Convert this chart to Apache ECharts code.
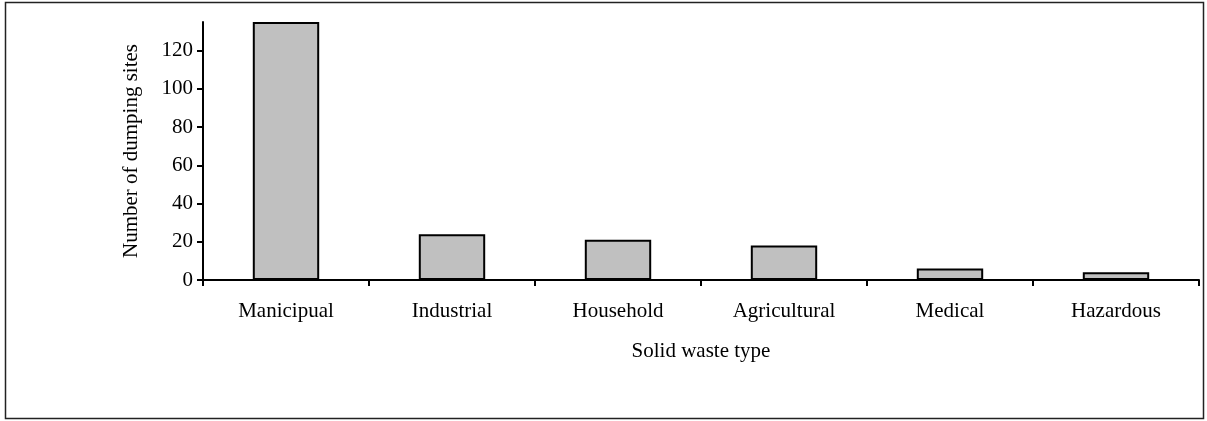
<!DOCTYPE html>
<html>
<head>
<meta charset="utf-8">
<script src="https://cdn.jsdelivr.net/npm/echarts@6/dist/echarts.min.js"></script>
<style>
  html, body { margin: 0; padding: 0; background: #fff; }
  #chart { width: 1207px; height: 421px; }
</style>
</head>
<body>
<div id="chart"></div>
<script>
// categories and values
const categories = ['Manicipual', 'Industrial', 'Household', 'Agricultural', 'Medical', 'Hazardous']
const sites = [135, 24, 21, 18, 6, 4]
const yTicks = [0, 20, 40, 60, 80, 100, 120]

const font = 'Liberation Serif, Times New Roman, serif'
const chart = echarts.init(document.getElementById('chart'))
chart.setOption({
  animation: false,
  graphic: [{
    type: 'rect',
    shape: { x: 5.5, y: 2.5, width: 1198, height: 416 },
    style: { fill: 'none', stroke: '#222', lineWidth: 1.5 },
    silent: true
  }],
  grid: { left: 203, right: 8, top: 22, bottom: 141 },
  xAxis: {
    type: 'category',
    data: categories,
    name: 'Solid waste type',
    nameLocation: 'middle',
    nameGap: 61,
    nameTextStyle: { fontFamily: font, fontSize: 21, color: '#000' },
    axisLine: { lineStyle: { color: '#000', width: 2 } },
    axisTick: { show: true, length: 6, lineStyle: { color: '#000', width: 2 } },
    axisLabel: { fontFamily: font, fontSize: 21, color: '#000', margin: 21 }
  },
  yAxis: {
    type: 'value',
    min: 0,
    max: 135,
    interval: 20,
    name: 'Number of dumping sites',
    nameLocation: 'middle',
    nameGap: 61,
    nameTextStyle: { fontFamily: font, fontSize: 21, color: '#000' },
    axisLine: { show: true, lineStyle: { color: '#000', width: 2 } },
    axisTick: { show: true, length: 6, customValues: yTicks, lineStyle: { color: '#000', width: 2 } },
    axisLabel: { fontFamily: font, fontSize: 21, color: '#000', margin: 10, customValues: yTicks },
    splitLine: { show: false }
  },
  series: [{
    type: 'bar',
    data: sites,
    barWidth: '40%',
    itemStyle: { color: '#c0c0c0', borderColor: '#000', borderWidth: 2 }
  }]
})
</script>
</body>
</html>
